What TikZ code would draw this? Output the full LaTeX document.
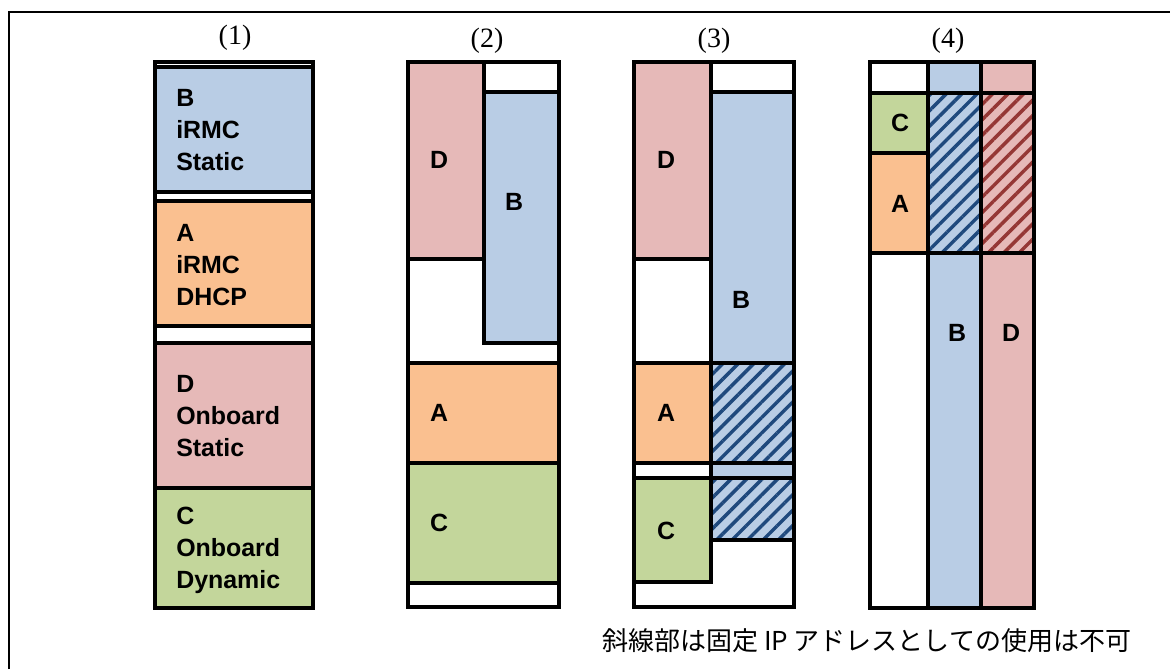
\documentclass[tikz,border=0pt]{standalone}
\usepackage{fontspec}
\setmainfont{Liberation Serif}
\setsansfont{Liberation Sans}
\newfontfamily\cjk{Noto Sans CJK JP}
\usetikzlibrary{patterns.meta}
\definecolor{cB}{HTML}{B9CDE5}
\definecolor{cA}{HTML}{FAC090}
\definecolor{cD}{HTML}{E6B9B8}
\definecolor{cC}{HTML}{C3D69B}
\definecolor{hB}{HTML}{1F497D}
\definecolor{hD}{HTML}{953735}
\tikzset{
  bx/.style={draw=black, line width=2.7pt},
  frame/.style={draw=black, line width=1.6pt},
  hatchB/.style={pattern={Lines[angle=45,distance=8.2pt,line width=2.6pt]}, pattern color=hB},
  hatchD/.style={pattern={Lines[angle=45,distance=8.2pt,line width=2.6pt]}, pattern color=hD},
  lbl/.style={font=\sffamily\bfseries\fontsize{18.7}{24}\selectfont, inner sep=0pt},
  multi/.style={lbl, anchor=north west, align=left},
  hdr/.style={font=\rmfamily\fontsize{21}{24}\selectfont, inner sep=0pt},
}
\begin{document}
\begin{tikzpicture}[x=0.75pt, y=-0.75pt]
\useasboundingbox (0,0) rectangle (1170,669);
\fill[white] (0,0) rectangle (1170,669);
% frame
\draw[frame] (9,669) -- (9,12) -- (1171,12);

% headers
\node[hdr] (h1) at (235,38) {(1)};
\node[hdr] (h2) at (487,41) {(2)};
\node[hdr] (h3) at (714,41) {(3)};
\node[hdr] (h4) at (948,41) {(4)};

% ---------- column 1
\draw[bx, fill=white] (155,62) rectangle (313,608);
\draw[bx, fill=cB] (155,67) rectangle (313,192);
\draw[bx, fill=cA] (155,201) rectangle (313,326);
\draw[bx, fill=cD] (155,343) rectangle (313,488);
\draw[bx, fill=cC] (155,488) rectangle (313,608);
\node[multi] (t1B) at (176,89) {B\\iRMC\\Static};
\node[multi] (t1A) at (176,224) {A\\iRMC\\DHCP};
\node[multi] (t1D) at (176,375) {D\\Onboard\\Static};
\node[multi] (t1C) at (176,507) {C\\Onboard\\Dynamic};

% ---------- column 2
\draw[bx, fill=white] (408,62) rectangle (559,607);
\draw[bx, fill=cD] (408,62) rectangle (484,259);
\draw[bx, fill=cB] (484,92) rectangle (559,343);
\draw[bx, fill=cA] (408,363) rectangle (559,463);
\draw[bx, fill=cC] (408,463) rectangle (559,583);
\node[lbl] (t2D) at (439,160) {D};
\node[lbl] (t2B) at (514,202) {B};
\node[lbl] (t2A) at (439,413) {A};
\node[lbl] (t2C) at (439,523) {C};

% ---------- column 3
\draw[bx, fill=white] (634,62) rectangle (794,607);
\fill[cB] (711,92) rectangle (794,540);
\fill[hatchB] (711,363) rectangle (794,463);
\fill[hatchB] (711,478) rectangle (794,540);
\draw[bx, fill=cD] (634,62) rectangle (711,259);
\draw[bx] (711,92) rectangle (794,363);
\draw[bx, fill=cA] (634,363) rectangle (711,463);
\draw[bx] (711,363) rectangle (794,463);
\draw[bx] (634,463) rectangle (794,478);
\draw[bx] (711,463) -- (711,478);
\draw[bx, fill=cC] (634,478) rectangle (711,582);
\draw[bx] (711,478) rectangle (794,540);
\node[lbl] (t3D) at (666,160) {D};
\node[lbl] (t3B) at (741,300) {B};
\node[lbl] (t3A) at (666,413) {A};
\node[lbl] (t3C) at (666,531) {C};

% ---------- column 4
\fill[white] (870,62) rectangle (928,608);
\fill[cB] (928,62) rectangle (981,608);
\fill[cD] (981,62) rectangle (1034,608);
\fill[hatchB] (928,93) rectangle (981,253);
\fill[hatchD] (981,93) rectangle (1034,253);
\draw[bx, fill=cC] (870,93) rectangle (928,153);
\draw[bx, fill=cA] (870,153) rectangle (928,253);
\draw[bx] (870,93) -- (1034,93);
\draw[bx] (870,253) -- (1034,253);
\draw[bx] (928,62) -- (928,608);
\draw[bx] (981,62) -- (981,608);
\draw[bx] (870,62) rectangle (1034,608);
\node[lbl] (t4C) at (900,123) {C};
\node[lbl] (t4A) at (900,204) {A};
\node[lbl] (t4B) at (957,333) {B};
\node[lbl] (t4D) at (1011,333) {D};

% note
\node[font=\cjk\fontsize{19.5}{22}\selectfont, inner sep=0pt, anchor=west] (note) at (602,641) {斜線部は固定 IP アドレスとしての使用は不可};
\end{tikzpicture}
\end{document}
